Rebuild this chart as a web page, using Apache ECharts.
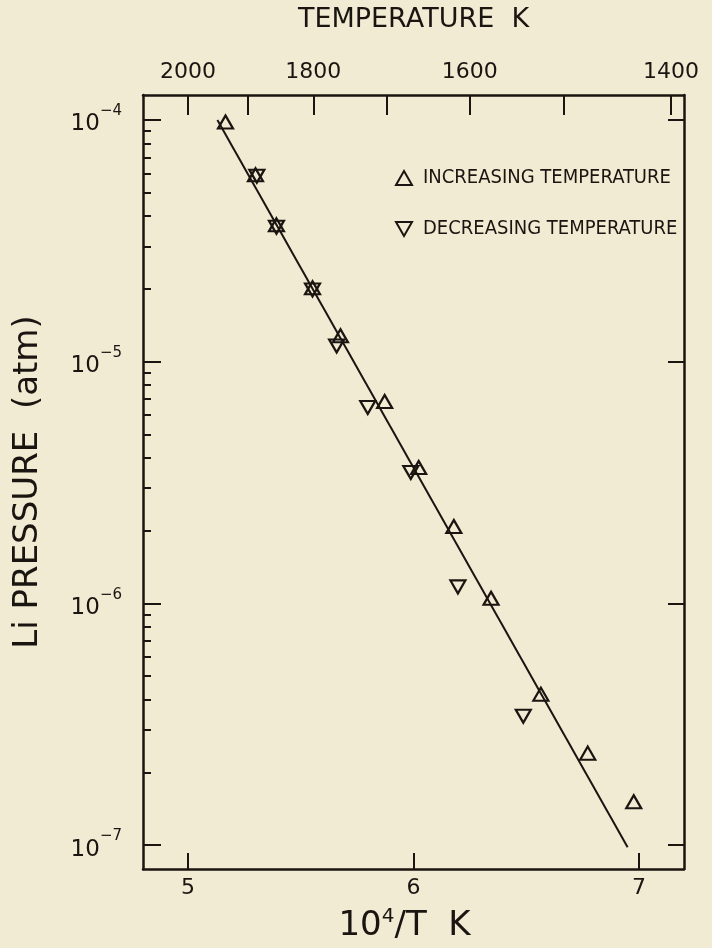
<!DOCTYPE html>
<html>
<head>
<meta charset="utf-8">
<script src="https://cdn.jsdelivr.net/npm/echarts@6/dist/echarts.min.js"></script>
<style>
html,body{margin:0;padding:0;background:#f1ebd3;}
#c{width:712px;height:948px;}
</style>
</head>
<body>
<div id="c"></div>
<script>
// ---- data (x = 10^4/T K, y = Li pressure in atm) ----
const incX = [5.166, 5.299, 5.392, 5.552, 5.676, 5.872, 6.023, 6.179, 6.344, 6.565, 6.773, 6.977];
const incP = [9.8e-5, 5.93e-5, 3.68e-5, 2.02e-5, 1.28e-5, 6.84e-6, 3.65e-6, 2.08e-6, 1.05e-6, 4.21e-7, 2.40e-7, 1.51e-7];
const decX = [5.305, 5.392, 5.552, 5.659, 5.797, 5.988, 6.197, 6.487];
const decP = [5.85e-5, 3.6e-5, 1.98e-5, 1.16e-5, 6.46e-6, 3.48e-6, 1.17e-6, 3.41e-7];
const fitX = [5.13, 6.95];
const fitP = [1.0e-4, 9.8e-8];

// ---- axes ----
const xTicks = [5, 6, 7];
const tempTicks = [2000, 1900, 1800, 1700, 1600, 1500, 1400];
const tempLabels = [2000, 1800, 1600, 1400];
const pMajor = [1e-7, 1e-6, 1e-5, 1e-4];
const minorMult = [2, 3, 4, 5, 6, 7, 8, 9];
const pMinor = [];
[1e-7, 1e-6, 1e-5].forEach(d => minorMult.forEach(m => pMinor.push(m * d)));
const xMin = 4.8, xMax = 7.2;
const pMin = Math.pow(10, -7.099), pMax = Math.pow(10, -3.897);

const legendNames = ['INCREASING TEMPERATURE', 'DECREASING TEMPERATURE'];

const ink = '#1b1511';
const FF = 'DejaVu Sans';
const downTri = 'path://M0,0L16,0L8,14Z';

const chart = echarts.init(document.getElementById('c'), null, {renderer: 'canvas'});

const zip = (a, b) => a.map((v, i) => [v, b[i]]);

const expLabel = v => {
  const e = Math.round(Math.log10(v));
  return '{b|10}{s|' + (e < 0 ? '\u2212' + (-e) : e) + '}';
};

const markerStyle = {color: 'rgba(0,0,0,0)', borderColor: ink, borderWidth: 2.2, opacity: 1};

chart.setOption({
  backgroundColor: '#f1ebd3',
  animation: false,
  grid: {left: 143, right: 28, top: 95, bottom: 78, containLabel: false},
  legend: {
    left: 390, top: 163, orient: 'vertical',
    itemWidth: 16, itemHeight: 14, itemGap: 31,
    itemStyle: {opacity: 1},
    textStyle: {fontFamily: 'DejaVu Sans Condensed, DejaVu Sans', fontSize: 20, color: ink, padding: [0, 0, 0, 6]},
    data: [{name: legendNames[0], icon: 'triangle'}, {name: legendNames[1], icon: downTri}],
    selectedMode: false
  },
  xAxis: [
    {
      type: 'value', position: 'bottom', min: xMin, max: xMax,
      axisLine: {show: true, lineStyle: {color: ink, width: 2.5}},
      axisTick: {show: true, inside: true, length: 16, customValues: xTicks, lineStyle: {color: ink, width: 2}},
      axisLabel: {customValues: xTicks, fontSize: 22, margin: 8, color: ink, fontFamily: FF},
      splitLine: {show: false},
      name: '{b|10}{s|4}{b|/T  K}', nameLocation: 'middle', nameGap: 38,
      nameTextStyle: {
        color: ink, fontFamily: FF, padding: [0, 18, 0, 0],
        rich: {
          b: {fontSize: 34, lineHeight: 36, verticalAlign: 'bottom', color: ink, fontFamily: FF},
          s: {fontSize: 20, lineHeight: 20, verticalAlign: 'top', color: ink, fontFamily: FF}
        }
      }
    },
    {
      type: 'value', position: 'top', min: xMin, max: xMax,
      axisLine: {show: true, lineStyle: {color: ink, width: 2.5}},
      axisTick: {show: true, inside: true, length: 20, customValues: tempTicks.map(t => 1e4 / t), lineStyle: {color: ink, width: 2}},
      axisLabel: {customValues: tempLabels.map(t => 1e4 / t), formatter: v => String(Math.round(1e4 / v)), fontSize: 22, margin: 12, color: ink, fontFamily: FF},
      splitLine: {show: false},
      name: 'TEMPERATURE  K', nameLocation: 'middle', nameGap: 62,
      nameTextStyle: {fontSize: 27, color: ink, fontFamily: FF}
    }
  ],
  yAxis: [
    {
      type: 'log', logBase: 10, position: 'left', min: pMin, max: pMax,
      axisLine: {show: true, lineStyle: {color: ink, width: 2.5}},
      axisTick: {show: true, inside: true, length: 18, customValues: pMajor, lineStyle: {color: ink, width: 2}},
      axisLabel: {
        customValues: pMajor, formatter: expLabel, margin: 21, color: ink,
        rich: {
          b: {fontSize: 23, lineHeight: 32, verticalAlign: 'bottom', color: ink, fontFamily: FF},
          s: {fontSize: 15, lineHeight: 15, verticalAlign: 'top', color: ink, fontFamily: FF}
        }
      },
      splitLine: {show: false}, minorTick: {show: false},
      name: 'Li PRESSURE  (atm)', nameLocation: 'middle', nameGap: 98,
      nameTextStyle: {fontSize: 34, lineHeight: 34, color: ink, fontFamily: FF}
    },
    {
      type: 'log', logBase: 10, position: 'left', min: pMin, max: pMax,
      axisLine: {show: false},
      axisTick: {show: true, inside: true, length: 8, customValues: pMinor, lineStyle: {color: ink, width: 2}},
      axisLabel: {show: false}, splitLine: {show: false}
    },
    {
      type: 'log', logBase: 10, position: 'right', min: pMin, max: pMax,
      axisLine: {show: true, lineStyle: {color: ink, width: 2.5}},
      axisTick: {show: true, inside: true, length: 16, customValues: pMajor, lineStyle: {color: ink, width: 2}},
      axisLabel: {show: false}, splitLine: {show: false}
    }
  ],
  series: [
    {
      type: 'line', name: 'fit', xAxisIndex: 0, yAxisIndex: 0,
      data: zip(fitX, fitP), symbol: 'none',
      lineStyle: {color: ink, width: 2}, silent: true, z: 1
    },
    {
      type: 'scatter', name: legendNames[0], xAxisIndex: 0, yAxisIndex: 0,
      data: zip(incX, incP), symbol: 'triangle', symbolSize: [15, 13],
      itemStyle: markerStyle, z: 3
    },
    {
      type: 'scatter', name: legendNames[1], xAxisIndex: 0, yAxisIndex: 0,
      data: zip(decX, decP), symbol: downTri, symbolSize: [15, 13],
      itemStyle: markerStyle, z: 3
    }
  ]
});
</script>
</body>
</html>
